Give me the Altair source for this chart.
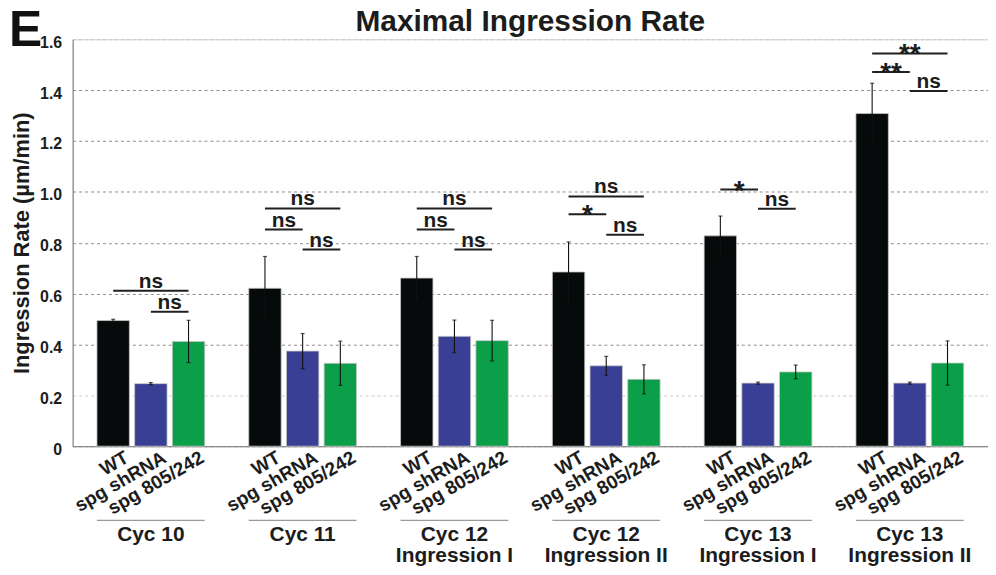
import altair as alt
import pandas as pd

# ---------------- data ----------------
groups = ["Cyc 10", "Cyc 11", "Cyc 12\nIngression I", "Cyc 12\nIngression II",
          "Cyc 13\nIngression I", "Cyc 13\nIngression II"]
series = ["WT", "spg shRNA", "spg 805/242"]
colors = ["#070a0a", "#383f94", "#0c9f49"]

wt_mean = [0.494, 0.621, 0.661, 0.685, 0.827, 1.308]
wt_err = [0.005, 0.125, 0.085, 0.118, 0.078, 0.119]
sh_mean = [0.246, 0.374, 0.432, 0.316, 0.248, 0.248]
sh_err = [0.004, 0.069, 0.064, 0.037, 0.004, 0.004]
gr_mean = [0.412, 0.326, 0.415, 0.263, 0.292, 0.327]
gr_err = [0.083, 0.087, 0.080, 0.057, 0.027, 0.087]

# significance comparisons: group index, from series, to series, level, label
sig_group = [0, 0, 1, 1, 1, 2, 2, 2, 3, 3, 3, 4, 4, 5, 5, 5]
sig_from = ["WT", "spg shRNA",
            "WT", "WT", "spg shRNA",
            "WT", "WT", "spg shRNA",
            "WT", "WT", "spg shRNA",
            "WT", "spg shRNA",
            "WT", "WT", "spg shRNA"]
sig_to = ["spg 805/242", "spg 805/242",
          "spg 805/242", "spg shRNA", "spg 805/242",
          "spg 805/242", "spg shRNA", "spg 805/242",
          "spg 805/242", "spg shRNA", "spg 805/242",
          "spg shRNA", "spg 805/242",
          "spg 805/242", "spg shRNA", "spg 805/242"]
sig_level = [0.611, 0.529,
             0.935, 0.852, 0.773,
             0.935, 0.852, 0.773,
             0.982, 0.912, 0.831,
             1.009, 0.934,
             1.544, 1.471, 1.397]
sig_label = ["ns", "ns",
             "ns", "ns", "ns",
             "ns", "ns", "ns",
             "ns", "*", "ns",
             "*", "ns",
             "**", "**", "ns"]

y_ticks = [0, 0.2, 0.4, 0.6, 0.8, 1.0, 1.2, 1.4, 1.6]
title_text = "Maximal Ingression Rate"
panel_letter = "E"
y_title = "Ingression Rate (µm/min)"

# ---------------- tables ----------------
means = [wt_mean, sh_mean, gr_mean]
errs = [wt_err, sh_err, gr_err]
rows = []
for si, s in enumerate(series):
    for gi, g in enumerate(groups):
        m, e = means[si][gi], errs[si][gi]
        rows.append({"group": g, "series": s, "mean": m, "lo": m - e, "hi": m + e})
bars = pd.DataFrame(rows)

line_rows, text_rows = [], []
for i in range(len(sig_group)):
    g = groups[sig_group[i]]
    line_rows.append({"group": g, "series": sig_from[i], "level": sig_level[i], "id": i})
    line_rows.append({"group": g, "series": sig_to[i], "level": sig_level[i], "id": i})
    wide = sig_from[i] == "WT" and sig_to[i] == "spg 805/242"
    text_rows.append({"group": g,
                      "series": "spg shRNA" if wide else sig_from[i],
                      "shift": not wide,
                      "star": "*" in sig_label[i],
                      "level": sig_level[i], "label": sig_label[i]})
sig_lines = pd.DataFrame(line_rows)
sig_text = pd.DataFrame(text_rows)
grp_df = pd.DataFrame({"group": groups})

FONT = "Liberation Sans"
INK = "#1c1c1c"

x_scale = alt.Scale(domain=groups, paddingInner=0.29, paddingOuter=0.16)
xo_scale = alt.Scale(domain=series, paddingInner=0.14, paddingOuter=0)
y_scale = alt.Scale(domain=[0, 1.6], nice=False)

X = alt.X("group:N", scale=x_scale, sort=groups,
          axis=alt.Axis(labels=False, ticks=False, title=None, grid=False,
                        domainColor="#8a8a8a", domainWidth=1.2))
XO = alt.XOffset("series:N", scale=xo_scale, sort=series)

y_axis = alt.Axis(values=y_ticks,
                  labelExpr="datum.value == 0 ? '0' : format(datum.value, '.1f')",
                  ticks=False, labelPadding=11, labelOffset=3,
                  labelFont=FONT, labelFontSize=16, labelFontWeight="bold",
                  labelColor=INK,
                  titleFont=FONT, titleFontSize=22, titleFontWeight="bold",
                  titleColor=INK, titlePadding=6,
                  domainColor="#8a8a8a", domainWidth=1.2,
                  gridDash=[3, 3], gridWidth=0.9,
                  gridColor={"condition": {"test": "datum.value == 0.2 || datum.value == 1.6",
                                           "value": "#c4c4c4"},
                             "value": "#808080"})


def Y(field):
    return alt.Y(field, scale=y_scale, title=y_title, axis=y_axis)


bar_layer = alt.Chart(bars).mark_bar(stroke="#c8c8c8", strokeWidth=0.8).encode(
    x=X, xOffset=XO, y=Y("mean:Q"),
    color=alt.Color("series:N", scale=alt.Scale(domain=series, range=colors), legend=None),
)

err_rule = alt.Chart(bars).mark_rule(color="#111111", strokeWidth=1.1).encode(
    x=X, xOffset=XO, y=Y("lo:Q"), y2="hi:Q")
err_top = alt.Chart(bars).mark_tick(color="#111111", size=4, thickness=1.2).encode(
    x=X, xOffset=XO, y=Y("hi:Q"))
err_bot = alt.Chart(bars).mark_tick(color="#111111", size=4, thickness=1.2).encode(
    x=X, xOffset=XO, y=Y("lo:Q"))

sig_line_layer = alt.Chart(sig_lines).mark_line(color="#202020", strokeWidth=2, strokeCap="butt").encode(
    x=X, xOffset=XO, y=Y("level:Q"), detail="id:N")


def sig_text_layer(shift, star):
    return alt.Chart(sig_text).transform_filter(
        f"datum.shift == {str(shift).lower()} && datum.star == {str(star).lower()}"
    ).mark_text(font=FONT, fontSize=28 if star else 21, fontWeight="bold", color=INK,
                baseline="alphabetic", dx=19 if shift else 0, dy=10 if star else -3).encode(
        x=X, xOffset=XO, y=Y("level:Q"), text="label:N")


sig_texts = [sig_text_layer(a, b) for a in (True, False) for b in (True, False)]

tick_labels = alt.Chart(bars).mark_text(
    font=FONT, fontSize=19, fontWeight="bold", color=INK, angle=330,
    align="right", baseline="middle", dx=16).encode(
    x=X, xOffset=XO, y=alt.value(427), text="series:N")

sep = alt.Chart(grp_df).mark_bar(color="#9a9a9a").encode(
    x=X, y=alt.value(483), y2=alt.value(484.2))

grp_labels = alt.Chart(grp_df).mark_text(
    font=FONT, fontSize=21, fontWeight="bold", color=INK, lineBreak="\n",
    lineHeight=21, baseline="alphabetic").encode(
    x=X, y=alt.value(504), text="group:N")

title_layer = alt.Chart(pd.DataFrame({"t": [title_text]})).mark_text(
    font=FONT, fontSize=30, fontWeight="bold", color=INK, baseline="alphabetic").encode(
    x=alt.value(460), y=alt.value(-8), text="t:N")

letter_layer = alt.Chart(pd.DataFrame({"t": [panel_letter]})).mark_text(
    font=FONT, fontSize=50, fontWeight="bold", color="#111111", baseline="alphabetic",
    align="left").encode(x=alt.value(-64), y=alt.value(7), text="t:N")

chart = alt.layer(
    bar_layer, err_rule, err_top, err_bot, sig_line_layer, *sig_texts,
    tick_labels, sep, grp_labels, title_layer, letter_layer
).properties(
    width=920, height=409,
    autosize=alt.AutoSizeParams(type="none"),
    padding={"left": 65, "top": 30, "right": 0, "bottom": 123},
    background="white",
).configure_view(stroke="#d0d0d0", strokeWidth=1)

chart.save("out.html", embed_options={"renderer": "svg", "actions": False})
